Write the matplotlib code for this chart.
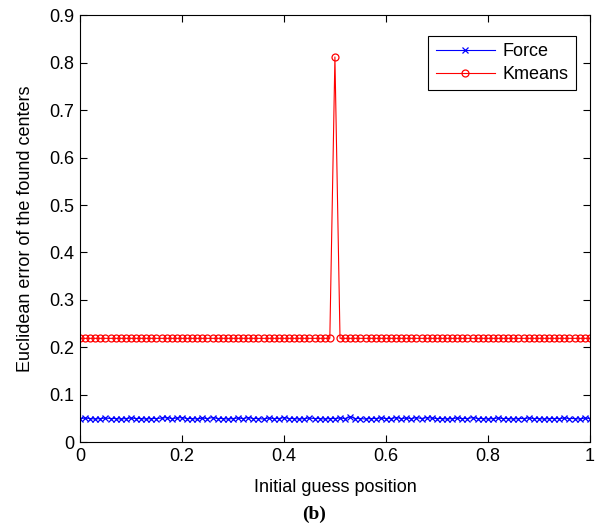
import numpy as np
import matplotlib
matplotlib.use('Agg')
import matplotlib.pyplot as plt

# Initial guess positions (101 samples over [0, 1])
guess_pos = np.linspace(0, 1, 101)

# Euclidean error, Force method
force_err = [
    0.050, 0.051, 0.050, 0.049, 0.050, 0.051, 0.050, 0.050, 0.049, 0.050,
    0.051, 0.050, 0.050, 0.049, 0.050, 0.050, 0.051, 0.052, 0.050, 0.051,
    0.052, 0.050, 0.050, 0.049, 0.051, 0.050, 0.052, 0.050, 0.050, 0.049,
    0.050, 0.051, 0.050, 0.052, 0.050, 0.050, 0.049, 0.051, 0.050, 0.050,
    0.052, 0.050, 0.050, 0.049, 0.050, 0.051, 0.050, 0.050, 0.049, 0.050,
    0.050, 0.051, 0.050, 0.054, 0.050, 0.050, 0.049, 0.050, 0.050, 0.051,
    0.050, 0.050, 0.052, 0.050, 0.051, 0.050, 0.052, 0.050, 0.052, 0.051,
    0.050, 0.050, 0.049, 0.050, 0.051, 0.050, 0.050, 0.052, 0.050, 0.050,
    0.049, 0.050, 0.051, 0.050, 0.050, 0.049, 0.050, 0.050, 0.051, 0.050,
    0.050, 0.049, 0.050, 0.050, 0.050, 0.051, 0.050, 0.050, 0.049, 0.051,
    0.050,
]

# Euclidean error, Kmeans (flat with one spike at 0.5)
kmeans_err = [
    0.219, 0.219, 0.219, 0.219, 0.219, 0.219, 0.219, 0.219, 0.219, 0.219,
    0.219, 0.219, 0.219, 0.219, 0.219, 0.219, 0.219, 0.219, 0.219, 0.219,
    0.219, 0.219, 0.219, 0.219, 0.219, 0.219, 0.219, 0.219, 0.219, 0.219,
    0.219, 0.219, 0.219, 0.219, 0.219, 0.219, 0.219, 0.219, 0.219, 0.219,
    0.219, 0.219, 0.219, 0.219, 0.219, 0.219, 0.219, 0.219, 0.219, 0.219,
    0.812, 0.219, 0.219, 0.219, 0.219, 0.219, 0.219, 0.219, 0.219, 0.219,
    0.219, 0.219, 0.219, 0.219, 0.219, 0.219, 0.219, 0.219, 0.219, 0.219,
    0.219, 0.219, 0.219, 0.219, 0.219, 0.219, 0.219, 0.219, 0.219, 0.219,
    0.219, 0.219, 0.219, 0.219, 0.219, 0.219, 0.219, 0.219, 0.219, 0.219,
    0.219, 0.219, 0.219, 0.219, 0.219, 0.219, 0.219, 0.219, 0.219, 0.219,
    0.219,
]

x_ticks = [0, 0.2, 0.4, 0.6, 0.8, 1]
x_tick_labels = ['0', '0.2', '0.4', '0.6', '0.8', '1']
y_ticks = [0, 0.1, 0.2, 0.3, 0.4, 0.5, 0.6, 0.7, 0.8, 0.9]
y_tick_labels = ['0', '0.1', '0.2', '0.3', '0.4', '0.5', '0.6', '0.7', '0.8', '0.9']

plt.rcParams['font.family'] = ['Liberation Sans', 'DejaVu Sans']

fig = plt.figure(figsize=(5.97, 5.24), dpi=100)
ax = fig.add_axes([0.134, 0.156, 0.854, 0.815])

ax.plot(guess_pos, force_err, color='blue', marker='x', markersize=4.5,
        markeredgewidth=0.9, linewidth=0.8, label='Force')
ax.plot(guess_pos, kmeans_err, color='red', marker='o', markersize=5,
        markerfacecolor='none', markeredgewidth=0.9, linewidth=0.8, label='Kmeans')

ax.set_xlim(0, 1)
ax.set_ylim(0, 0.9)
ax.set_xticks(x_ticks)
ax.set_xticklabels(x_tick_labels)
ax.set_yticks(y_ticks)
ax.set_yticklabels(y_tick_labels)

# MATLAB-like ticks: inside, on all four sides
ax.tick_params(direction='in', top=True, right=True, length=5, width=0.8,
               labelsize=13, pad=4)
for spine in ax.spines.values():
    spine.set_linewidth(0.8)

ax.set_xlabel('Initial guess position', fontsize=13, labelpad=10)
ax.set_ylabel('Euclidean error of the found centers', fontsize=13, labelpad=11)

leg = ax.legend(loc='upper right', fontsize=13, fancybox=False, framealpha=1,
                edgecolor='black', borderpad=0.4, handlelength=3.3,
                handletextpad=0.4, labelspacing=0.3, bbox_to_anchor=(0.99, 0.972))
leg.get_frame().set_linewidth(0.8)

fig.text(0.526, 0.019, '(b)', ha='center', va='center', fontsize=14,
         fontweight='bold', family=['Liberation Serif', 'DejaVu Serif'])

fig.savefig('out.png', dpi=100)
